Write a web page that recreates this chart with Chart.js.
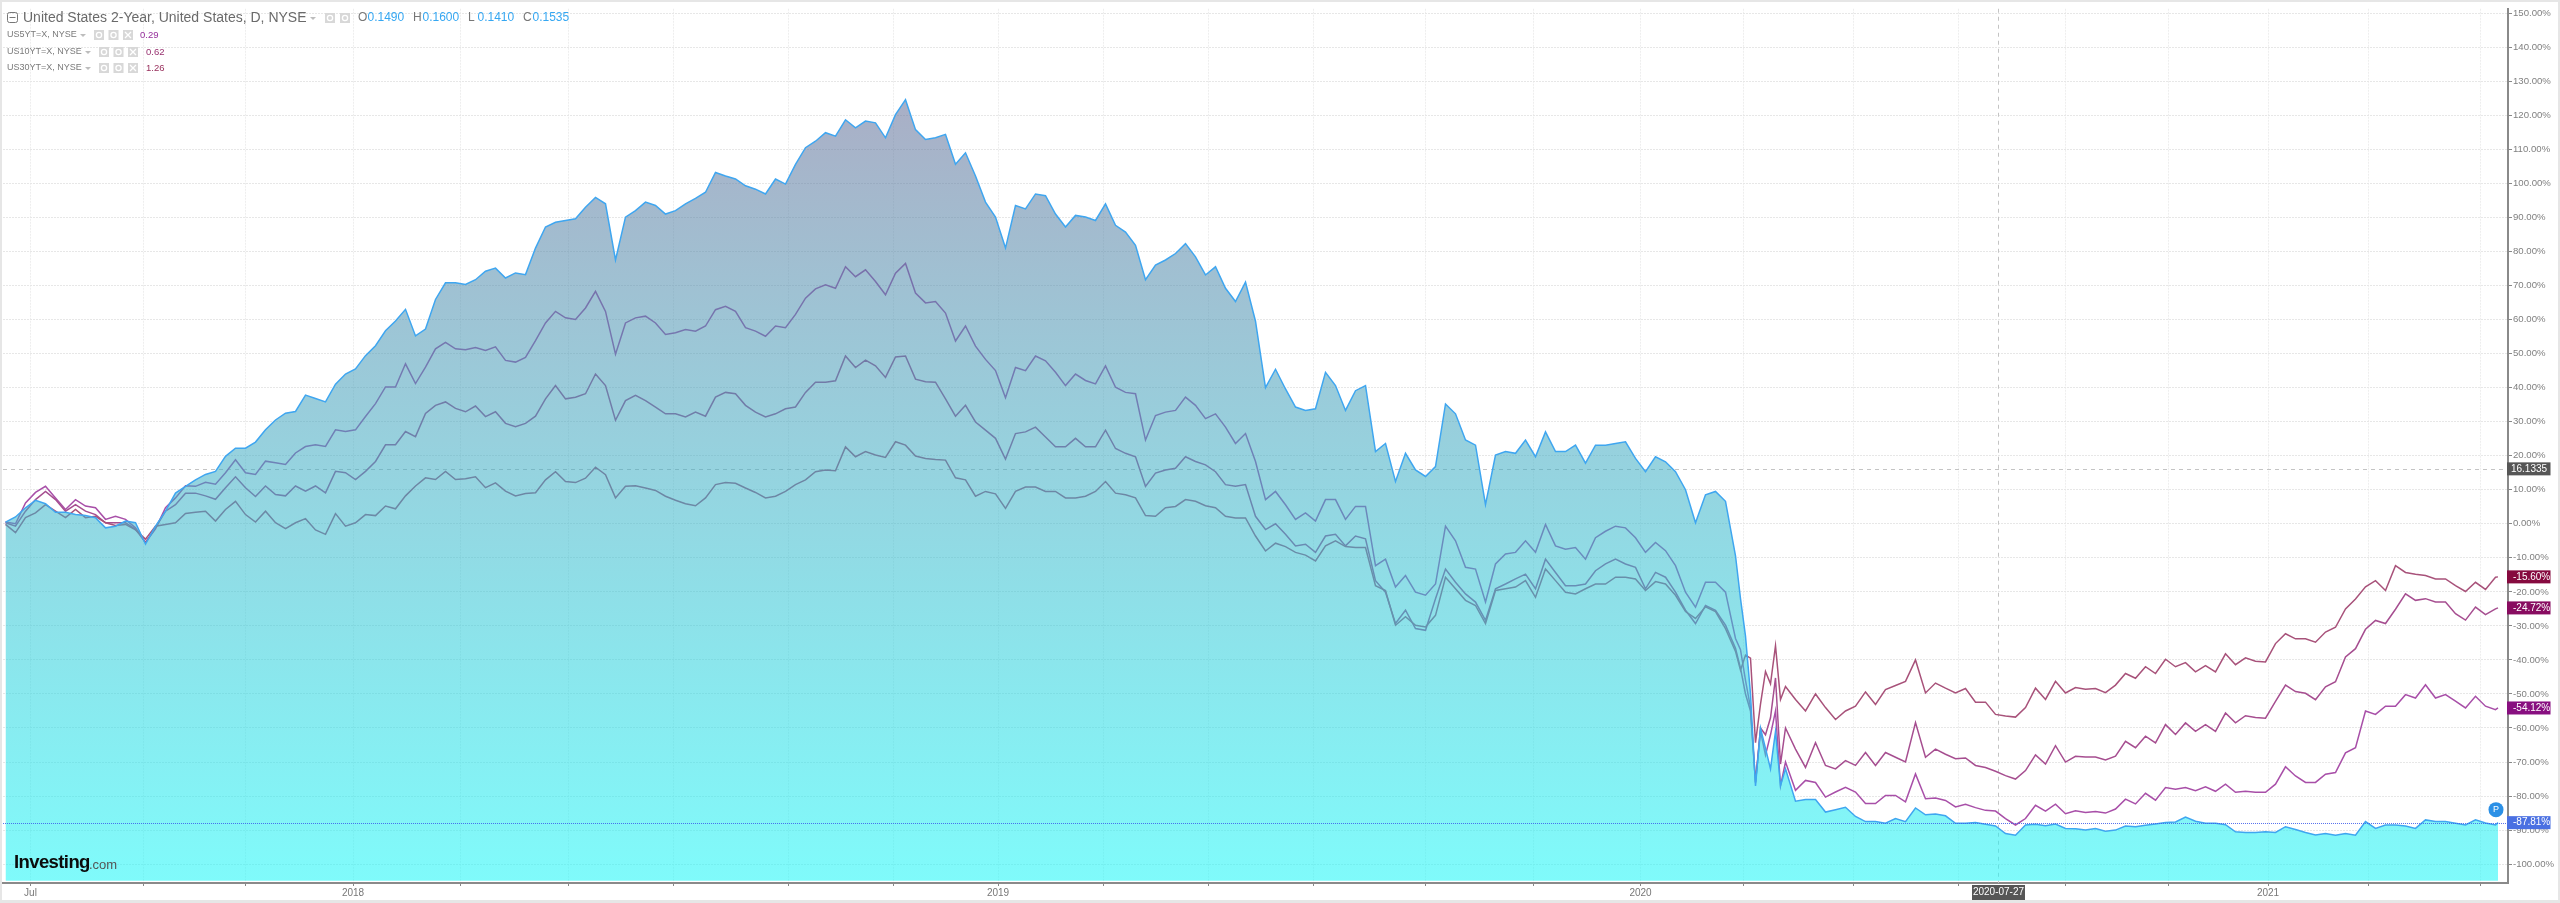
<!DOCTYPE html>
<html>
<head>
<meta charset="utf-8">
<title>United States 2-Year</title>
<script src="https://cdn.jsdelivr.net/npm/chart.js@4/dist/chart.umd.min.js"></script>
<style>
  html, body { margin: 0; padding: 0; background: #e6e6e6; overflow: hidden; }
  #wrap { position: absolute; left: 2px; top: 2px; width: 2556px; height: 898px; background: #fff; }
</style>
</head>
<body>
<div id="wrap"><canvas id="myChart" width="2556" height="898"></canvas></div>
<script>
// percent change since start, one row = roughly 100px of chart
const us2y = [
  .5,2,4.7,6.9,5.9,3.4,3.4,2.7,2.4,1.8,
  -1.2,-.7,.8,.3,-6,-.7,3.7,9,11,12.9,
  14.5,15.4,19.8,22.2,22.2,24,27.6,30.5,32.5,33,
  37.8,36.8,35.8,41,44,45.5,49.4,52.3,56.7,59.6,
  63,55.2,57.2,65.9,70.8,70.8,70.3,71.7,74.2,75.1,
  72.2,73.7,73.2,81,87.2,88.6,89.1,89.6,93,95.9,
  94,77.5,90.1,92,94.5,93.5,91,92,94,95.6,
  97.4,103.2,102.2,101.3,99.3,98.3,96.9,101.3,99.8,105.6,
  110.5,112.4,114.9,113.9,118.7,116.3,118.3,117.8,113.4,120.2,
  124.6,115.8,112.9,113.4,114.4,105.6,109,102.2,94.5,90.1,
  81,93.5,92.5,96.9,96.4,91,87.2,90.6,90.1,89.1,
  94,87.7,85.7,81.8,71.7,76,77.5,79.4,82.3,78.4,
  73.1,75.5,69.2,65.3,71,59.5,40,45.4,39.6,34.3,
  33.3,33.8,44.5,40.6,33.3,39.1,40.6,21.2,23.6,12.4,
  20.7,15.8,13.9,16.8,35.2,32.3,24.6,23.1,5.6,20.2,
  21.2,20.7,24.6,19.7,27,21.2,21.2,23.1,17.8,23.1,
  23.1,23.6,24.1,19.2,15.3,19.7,18.2,15.3,10,0.3,
  8.5,9.5,6.6,-9.4,-22,-33,-50,-77,-60,-66,-72,-61,-77,-72,-81.5,
  -81,-81,-84.7,-84,-83.3,-86,-87.5,-87.5,-88,-86.6,
  -87.5,-83.5,-85.5,-85.3,-85.8,-88,-88,-87.8,-88.3,-88.8,
  -91,-91.5,-88.5,-88.3,-88.7,-88.2,-89.5,-89.6,-90,-89.5,
  -90.3,-90,-88.8,-89,-88.6,-88.2,-87.8,-87.6,-86.2,-87.4,
  -88,-88,-88.4,-90.5,-90.7,-90.7,-90.5,-90.7,-89,-89.8,
  -90.7,-91.4,-91,-91.5,-91,-91.5,-87.5,-89.5,-88.5,-88.5,
  -88.8,-89.5,-87,-87.5,-87.5,-88,-88.5,-87,-87.9,-88.5,-87.81
];
const us5y = [
  .5,0,6.1,9.2,11,7.6,4.2,7.1,5.2,4.7,
  1.3,2.2,1.3,-1.2,-5.5,-1.5,4.7,7.6,11.2,11,
  12.2,11.6,15,18.8,15,14.5,18.4,17.9,17.4,20.8,
  22.7,23.2,22.7,27.6,27.1,27.6,31.5,35.3,40.2,40.2,
  47,41.2,46,51.4,53.3,51.4,51.1,51.8,50.9,52,
  48,47.5,48.9,53.8,59,62.4,60.5,60,63.4,68.3,
  62.4,49.8,59,60.5,61,59,55.6,56.1,57.1,56.6,
  58.1,62.9,63.9,62.4,57.6,56.6,55.1,58.1,57.6,61.5,
  66.3,69,70.2,69.2,75.5,72.6,74.6,71.2,67.3,73.6,
  76.5,67.8,64.9,65.3,61.9,53.7,58.1,52.2,48.3,45,
  37,45.9,45,49.3,47.9,44.5,40.6,44,42.1,41.1,
  46.4,40.1,38.6,38.2,24.6,31.8,32.8,33.3,37.2,34.8,
  30.9,32.3,28.4,23.6,26.5,18.3,7.1,9.5,5.6,1.3,
  3.2,.8,7.1,7.1,1.3,5.1,5.1,-12.3,-10.4,-18.6,
  -15.2,-20.1,-21,-17.7,-.7,-5,-12.8,-13.3,-23,-11.8,
  -8.9,-8.4,-5,-8.4,-.2,-6.5,-7.5,-7,-10.4,-4.1,
  -2.2,-.7,-1.2,-4.1,-8.4,-5.5,-7.9,-12.3,-20.1,-24.5,
  -17.2,-17.2,-20.1,-33.7,-37,-46,-54,-76,-61,-68,-62,-55,-77,-70,-78.3,
  -75.4,-76,-80.3,-78.8,-77.4,-78.8,-82.2,-82.2,-79.8,-79.8,
  -81.7,-73.5,-80.8,-80.6,-81.3,-83.2,-82.4,-83.4,-84.2,-84.4,
  -86.6,-88.5,-86.6,-82.7,-84.4,-82.4,-85.2,-84.3,-84.8,-84.5,
  -85,-83.8,-80.9,-82.3,-79.2,-81.2,-77.5,-78,-77.5,-78.4,
  -77.3,-78.6,-76.5,-78.9,-78.6,-78.9,-78.9,-76.5,-71.4,-74.1,
  -76,-76,-73.6,-73.1,-67.3,-65.8,-55,-56,-53.6,-53.6,
  -50.2,-51.2,-47.3,-51.2,-50.2,-52.1,-54.1,-50.7,-53.6,-54.6,-54.12
];
const us10y = [
  .3,-.7,3.7,7.1,9.5,7.1,3.7,5.6,3.7,2.7,
  .3,.3,.3,-1.6,-5.5,-1.2,3.7,5.6,9,9,
  8.2,7.2,10.6,13.8,10.6,8,11.1,8.6,8.2,11.1,
  9.6,11.1,9.1,15.4,15,13,15.4,18.3,23.2,23.2,
  27.1,25.6,32.4,34.8,35.8,33.9,32.9,34.6,31.5,32.9,
  29.5,28.5,29.5,31.6,36.7,40.6,36.7,37.2,38.2,44,
  40.6,30.4,36.2,37.7,36.2,34.3,32.3,32.3,31.4,32.8,
  31.6,37.2,38.6,38.2,34.8,32.8,31.4,32.3,33.8,34.3,
  38.6,41.6,41.6,42,49.3,45.9,48.1,46.4,43,49,
  49.3,42.5,41.7,41.6,36.7,31.6,34.8,29.9,27.5,25.1,
  19,26.5,27,28.4,25.5,22.6,22.6,25.1,22.6,22.6,
  27.5,22.1,20.7,19.7,11,14.9,15.8,16.3,19.7,18.3,
  17.3,15.3,11.5,11,11.5,2.2,-1.7,0,-3.1,-6.5,
  -6,-8.4,-3.6,-3.1,-6.5,-3.6,-4.4,-16.7,-20.1,-29.3,
  -25.4,-30.8,-31.3,-22,-13.3,-17.2,-20.6,-23,-28.4,-19.1,
  -17.7,-16.2,-14.8,-19.1,-10.4,-14.3,-18.2,-18.2,-17.7,-13.8,
  -11.8,-10.4,-11.8,-12.8,-19.1,-14.3,-15.7,-20.1,-25.4,-29.3,
  -24,-25.4,-29.8,-36.6,-42.4,-50,-55,-76,-60,-62,-57,-45.3,-70.6,-60,-66.2,
  -71.6,-64.3,-71,-72,-69.6,-71,-67.2,-71,-67.2,-68.6,
  -70,-58.4,-68.6,-66.2,-67.7,-69,-68.8,-71,-71.6,-72.7,
  -74,-75,-72.5,-67.9,-70.6,-65.2,-70,-68.3,-68.5,-68.5,
  -69.4,-68.3,-63.9,-65.8,-62.4,-64.4,-59,-61.9,-58.5,-61,
  -59,-61,-55.6,-58.5,-56.4,-56.9,-57.1,-52.2,-47.4,-49.3,
  -49.8,-51.7,-47.9,-46.4,-39.1,-36.7,-31,-28.4,-29.3,-25.1,
  -20.6,-22.5,-22,-23,-23,-26.4,-28.3,-24.5,-26.7,-25,-24.72
];
const us30y = [
  -.2,-2.6,1.8,3.2,5.6,3.7,1.8,4.2,1.8,2.2,
  .3,-.5,-.2,-1.8,-4.5,-.7,-.2,.3,3,3.4,
  3.7,.8,4.2,6.6,2.7,.5,3.7,.3,-1.4,.3,
  1.5,-1.8,-3.1,3,-.7,.3,2.7,2.4,5.2,4.4,
  8.2,11.1,13.5,13,15.4,13,13.2,13.8,10.6,12,
  9.6,8.2,8.9,9.1,12.9,15.3,12.4,12.1,13.4,16.6,
  14.4,7.6,11,11.2,10.5,9.8,8.1,6.9,5.9,5.3,
  7.6,11.5,12.1,11.9,10.5,9.2,7.6,8.1,9.5,11.5,
  12.9,15.3,15.8,15.6,22.6,19.7,21.2,20.2,19.5,24.1,
  23.1,19.9,19.2,18.9,18.7,13.5,12.9,8.1,9.5,8.8,
  4.5,9.5,10.8,10.8,9.5,9.5,7.6,7.6,8.1,9.5,
  12.4,9,8.5,7.6,2.4,2.2,4.7,5.1,7.1,6.6,
  5.3,4.7,2.2,1.7,1.7,-3.6,-8,-5.7,-6.7,-8.4,
  -9.2,-10.9,-6.5,-5,-6.7,-7,-7,-18.2,-19.6,-29.8,
  -27.3,-29.8,-30.3,-26.9,-15.7,-19.1,-22.5,-24,-29.3,-19.6,
  -19.1,-18.6,-16.7,-21.6,-13.3,-16.7,-20.1,-20.6,-19.1,-17.7,
  -17.7,-15.7,-15.7,-16.2,-19.6,-17,-17.7,-21,-25.8,-27.8,
  -24.4,-25.8,-30.8,-37.5,-43,-38.6,-39.5,-64.3,-53,-43.4,-47,-35.8,-51.6,-47.8,-51.6,
  -55,-50,-54,-57.5,-55,-53.6,-49.4,-53.1,-48.7,-47.5,
  -46.3,-40,-49.7,-46.8,-48.3,-49.7,-48.4,-52.4,-52.4,-56,
  -56.5,-56.8,-54,-48.3,-51.6,-46.3,-49.7,-48.1,-48.6,-48.4,
  -49.6,-47.4,-44,-45.4,-42,-44,-39.8,-42,-40.8,-43.5,
  -41.7,-43.5,-38.2,-41.4,-39.4,-40.4,-40.6,-35.2,-32.3,-33.8,
  -33.8,-34.8,-31.8,-30.4,-25,-22.1,-18.5,-16.7,-19.6,-12.3,
  -14.3,-14.8,-15.2,-16.2,-16.2,-18.2,-19.9,-17.2,-19.3,-15.7,-15.6
];

// the axis counts trading days, ticks about every two months
const tickBars = [11,56,97,140,183,226,268,314,356,398,440,482,524,569,612,655,696,740,782,825,866,906,946,991];
const tickLabels = ['Jul','','','2018','','','','','','2019','','','','','','2020','','','','','','2021','',''];
const yTicks = [150,140,130,120,110,100,90,80,70,60,50,40,30,20,10,0,-10,-20,-30,-40,-50,-60,-70,-80,-90,-100];

const crossBar = 798;
const crossLabel = '2020-07-27';
const crossValue = 16.1335;
const priceTags = [
  {value: -15.60, text: '-15.60%', color: '#860a3f'},
  {value: -24.72, text: '-24.72%', color: '#880c60'},
  {value: -54.12, text: '-54.12%', color: '#880f80'},
  {value: -87.81, text: '-87.81%', color: '#4a70e2'}
];

// sampled every 4 bars, every 2 bars through the March 2020 crash
const bars = [];
for (let b = 1; b <= 997; b += (b >= 693 && b < 713) ? 2 : 4) bars.push(b);
bars.push(998);

function toPoints(values) {
  return values.map((v, i) => ({x: bars[i], y: v}));
}

function lineSet(label, values, color, order) {
  return {
    label: label,
    data: toPoints(values),
    borderColor: color,
    borderWidth: 1.5,
    pointRadius: 0,
    tension: 0,
    fill: false,
    order: order
  };
}

function areaGradient(context) {
  const chart = context.chart;
  if (!chart.chartArea) return 'transparent';
  const top = chart.scales.y.getPixelForValue(Math.max(...us2y));
  const g = chart.ctx.createLinearGradient(0, top, 0, chart.chartArea.bottom);
  g.addColorStop(0, 'rgba(99,109,151,0.55)');
  g.addColorStop(1, 'rgba(22,248,248,0.55)');
  return g;
}

function iconBox(ctx, x, y, kind) {
  ctx.fillStyle = '#d8d8d8';
  ctx.fillRect(x, y, 10, 10);
  ctx.strokeStyle = '#fff';
  ctx.lineWidth = 1.3;
  ctx.beginPath();
  if (kind === 'x') {
    ctx.moveTo(x + 2, y + 2); ctx.lineTo(x + 8, y + 8);
    ctx.moveTo(x + 8, y + 2); ctx.lineTo(x + 2, y + 8);
  } else {
    ctx.arc(x + 5, y + 5, 2.6, 0, Math.PI * 2);
  }
  ctx.stroke();
}

function caret(ctx, x, y) {
  ctx.fillStyle = '#bdbdbd';
  ctx.beginPath();
  ctx.moveTo(x, y); ctx.lineTo(x + 6, y); ctx.lineTo(x + 3, y + 3);
  ctx.fill();
}

function drawText(ctx, text, x, y, font, color, align) {
  ctx.font = font;
  ctx.fillStyle = color;
  ctx.textAlign = align || 'left';
  ctx.textBaseline = 'middle';
  ctx.fillText(text, x, y);
}

const FONT = '"Liberation Sans", sans-serif';

function drawHeader(ctx) {
  ctx.strokeStyle = '#777';
  ctx.lineWidth = 1;
  ctx.beginPath();
  ctx.roundRect(7.5, 12.5, 10, 10, 2);
  ctx.moveTo(9.5, 17.5); ctx.lineTo(15.5, 17.5);
  ctx.stroke();
  drawText(ctx, 'United States 2-Year, United States, D, NYSE', 23, 18, '14px ' + FONT, '#6a6a6a');
  caret(ctx, 310, 17);
  iconBox(ctx, 325, 13, 'o');
  iconBox(ctx, 340, 13, 'o');
  const ohlc = [['O', '0.1490', 358], ['H', '0.1600', 413], ['L', '0.1410', 468], ['C', '0.1535', 523]];
  ohlc.forEach(o => {
    drawText(ctx, o[0], o[2], 18, '12px ' + FONT, '#777');
    drawText(ctx, o[1], o[2] + 9.5, 18, '12px ' + FONT, '#35a7f2');
  });

  const rows = [
    {name: 'US5YT=X, NYSE', y: 35, box: 94, val: '0.29', valX: 140, color: '#96309c'},
    {name: 'US10YT=X, NYSE', y: 52, box: 99, val: '0.62', valX: 146, color: '#98306f'},
    {name: 'US30YT=X, NYSE', y: 68, box: 99, val: '1.26', valX: 146, color: '#982f5c'}
  ];
  rows.forEach(r => {
    drawText(ctx, r.name, 7, r.y, '9px ' + FONT, '#7a7a7a');
    caret(ctx, r.box - 14, r.y - 1);
    iconBox(ctx, r.box, r.y - 5, 'o');
    iconBox(ctx, r.box + 14.5, r.y - 5, 'o');
    iconBox(ctx, r.box + 29, r.y - 5, 'x');
    drawText(ctx, r.val, r.valX, r.y, '9.5px ' + FONT, r.color);
  });
}

// crosshair, watermark, price tags and the study header sit on top of the library's scales
const overlay = {
  id: 'overlay',
  beforeDatasetsDraw(chart) {
    const {ctx, chartArea, scales} = chart;
    ctx.save();
    ctx.strokeStyle = '#c4c4c4';
    ctx.lineWidth = 1;
    ctx.setLineDash([4, 4]);
    const cy = Math.round(scales.y.getPixelForValue(crossValue)) + .5;
    const cx = Math.round(scales.x.getPixelForValue(crossBar)) + .5;
    ctx.beginPath();
    ctx.moveTo(chartArea.left, cy); ctx.lineTo(chartArea.right, cy);
    ctx.moveTo(cx, chartArea.top); ctx.lineTo(cx, chartArea.bottom);
    ctx.stroke();
    ctx.restore();
  },
  afterDatasetsDraw(chart) {
    const {ctx, chartArea, scales} = chart;
    ctx.save();
    ctx.strokeStyle = 'rgba(60,90,235,0.85)';
    ctx.lineWidth = 1;
    ctx.setLineDash([1, 1]);
    const py = Math.round(scales.y.getPixelForValue(-87.81)) + .5;
    ctx.beginPath();
    ctx.moveTo(chartArea.left, py); ctx.lineTo(chartArea.right, py);
    ctx.stroke();
    ctx.restore();
  },
  afterDraw(chart) {
    const {ctx, chartArea, scales} = chart;
    ctx.save();
    ctx.translate(-2, -2); // header positions are page positions

    drawHeader(ctx);

    ctx.save();
    ctx.letterSpacing = '-0.6px';
    drawText(ctx, 'Investing', 14, 863, 'bold 18.5px ' + FONT, '#0b0b0b');
    ctx.restore();
    drawText(ctx, '.com', 89, 865, '13px ' + FONT, '#555');

    const boxX = chartArea.right + 1;
    priceTags.forEach(t => {
      const y = scales.y.getPixelForValue(t.value) + 2;
      ctx.fillStyle = t.color;
      ctx.fillRect(boxX, y - 6.5, 43.5, 13);
      drawText(ctx, t.text, boxX + 6, y, '10px ' + FONT, '#fff');
    });
    const cy = scales.y.getPixelForValue(crossValue) + 2;
    ctx.fillStyle = '#565656';
    ctx.fillRect(boxX, cy - 6.5, 43.5, 13);
    drawText(ctx, '16.1335', boxX + 22, cy, '10px ' + FONT, '#fff', 'center');

    const cx = scales.x.getPixelForValue(crossBar) + 2;
    ctx.fillStyle = '#565656';
    ctx.fillRect(cx - 26, chartArea.bottom + 4, 53, 15);
    drawText(ctx, crossLabel, cx + .5, chartArea.bottom + 11.5, '10px ' + FONT, '#fff', 'center');

    // position bubble at the last bar
    const bx = scales.x.getPixelForValue(bars[bars.length - 1]);
    const by = scales.y.getPixelForValue(-87.81) - 11;
    ctx.fillStyle = '#2b90e6';
    ctx.beginPath();
    ctx.arc(bx, by, 7.5, 0, Math.PI * 2);
    ctx.fill();
    drawText(ctx, 'P', bx, by, '9px ' + FONT, '#fff', 'center');
    ctx.restore();
  }
};

const config = {
  type: 'line',
  data: {
    datasets: [
      lineSet('US5YT=X', us5y, '#a84fa8', 3),
      lineSet('US10YT=X', us10y, '#a64e90', 2),
      lineSet('US30YT=X', us30y, '#a8527a', 1),
      {
        label: 'United States 2-Year',
        data: toPoints(us2y),
        borderColor: '#3fa6f0',
        borderWidth: 1.5,
        pointRadius: 0,
        tension: 0,
        fill: {value: -104.9},
        backgroundColor: areaGradient,
        order: 0
      }
    ]
  },
  plugins: [overlay],
  options: {
    responsive: false,
    animation: false,
    parsing: false,
    normalized: true,
    layout: {padding: {left: 1, top: 0, right: 0, bottom: 0}},
    plugins: {legend: {display: false}, tooltip: {enabled: false}, title: {display: false}},
    scales: {
      x: {
        type: 'linear',
        min: 0,
        max: 1002,
        afterBuildTicks(axis) { axis.ticks = tickBars.map(v => ({value: v})); },
        afterFit(axis) { axis.height = 17; },
        grid: {color: '#eeeeee', tickColor: '#888', tickLength: 3},
        border: {color: '#8a8a8a', width: 2, dash: [2, 1]},
        ticks: {
          autoSkip: false,
          maxRotation: 0,
          padding: 1,
          color: '#777',
          font: {family: 'Liberation Sans', size: 10},
          callback(value, index) { return tickLabels[index]; }
        }
      },
      y: {
        position: 'right',
        min: -105.54,
        max: 151.31,
        afterBuildTicks(axis) { axis.ticks = yTicks.map(v => ({value: v})); },
        afterFit(axis) { axis.width = 50; },
        grid: {color: '#e7e7e7', tickColor: '#888', tickLength: 4},
        border: {color: '#8a8a8a', width: 2, dash: [2, 1]},
        ticks: {
          padding: 1,
          color: '#808080',
          font: {family: 'Liberation Sans', size: 9.6},
          callback(value) { return value.toFixed(2) + '%'; }
        }
      }
    }
  }
};

new Chart(document.getElementById('myChart'), config);
</script>
</body>
</html>
